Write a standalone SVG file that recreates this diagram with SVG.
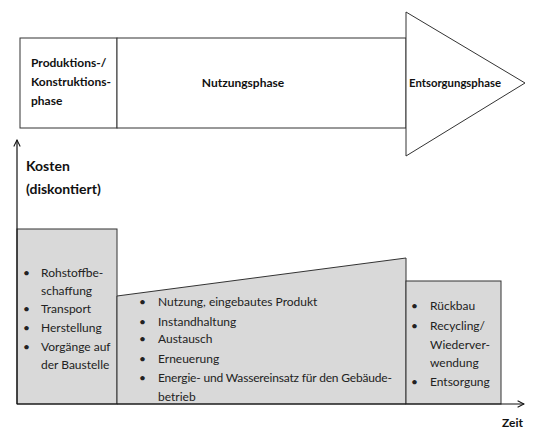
<svg xmlns="http://www.w3.org/2000/svg" width="534" height="430" viewBox="0 0 534 430">
<defs>
<style>
.t{font-family:Lato,"Liberation Sans",sans-serif;font-size:12px;fill:#222}
.b{font-family:Lato,"Liberation Sans",sans-serif;font-size:12px;font-weight:bold;fill:#111}
.k{font-family:Lato,"Liberation Sans",sans-serif;font-size:14px;font-weight:bold;fill:#111}
.box{fill:#d9d9d9;stroke:#333;stroke-width:1}
.ph{fill:#fff;stroke:#333;stroke-width:1}
.ax{fill:none;stroke:#111;stroke-width:1.2}
</style>
<marker id="ah" viewBox="0 0 10 10" refX="9" refY="5" markerWidth="8" markerHeight="8" orient="auto" markerUnits="userSpaceOnUse">
<path d="M1,1 L9,5 L1,9" fill="none" stroke="#111" stroke-width="1.3"/>
</marker>
</defs>
<rect width="534" height="430" fill="#fff"/>
<g id="phase-produktion">
<rect class="ph" x="20" y="38" width="97" height="90"/>
<text class="b" x="31" y="67">Produktions-/</text>
<text class="b" x="31" y="86">Konstruktions-</text>
<text class="b" x="31" y="105">phase</text>
</g>
<g id="phase-nutzung">
<rect class="ph" x="117" y="38" width="289" height="90"/>
<text class="b" x="243" y="87" text-anchor="middle">Nutzungsphase</text>
</g>
<g id="phase-entsorgung">
<polygon class="ph" points="406,12 525,83 406,156"/>
<text class="b" x="409" y="87" textLength="92" lengthAdjust="spacingAndGlyphs">Entsorgungsphase</text>
</g>
<g id="kosten-produktion">
<rect class="box" x="17" y="229" width="100" height="175"/>
<text class="t" x="23" y="277">•</text><text class="t" x="41" y="277">Rohstoffbe-</text>
<text class="t" x="41" y="295">schaffung</text>
<text class="t" x="23" y="313">•</text><text class="t" x="41" y="313">Transport</text>
<text class="t" x="23" y="332">•</text><text class="t" x="41" y="332">Herstellung</text>
<text class="t" x="23" y="351">•</text><text class="t" x="41" y="351">Vorgänge auf</text>
<text class="t" x="41" y="369">der Baustelle</text>
</g>
<g id="kosten-nutzung">
<polygon class="box" points="117,296 406,258 406,404 117,404"/>
<text class="t" x="139" y="306">•</text><text class="t" x="158" y="306">Nutzung, eingebautes Produkt</text>
<text class="t" x="139" y="326">•</text><text class="t" x="158" y="326">Instandhaltung</text>
<text class="t" x="139" y="343">•</text><text class="t" x="158" y="343">Austausch</text>
<text class="t" x="139" y="363">•</text><text class="t" x="158" y="363">Erneuerung</text>
<text class="t" x="139" y="382">•</text><text class="t" x="158" y="382" textLength="234" lengthAdjust="spacing">Energie- und Wassereinsatz für den Gebäude-</text>
<text class="t" x="158" y="401">betrieb</text>
</g>
<g id="kosten-entsorgung">
<rect class="box" x="406" y="281" width="95" height="123"/>
<text class="t" x="411" y="310">•</text><text class="t" x="430" y="310">Rückbau</text>
<text class="t" x="411" y="330">•</text><text class="t" x="430" y="330">Recycling/</text>
<text class="t" x="430" y="349">Wiederver-</text>
<text class="t" x="430" y="367">wendung</text>
<text class="t" x="411" y="386">•</text><text class="t" x="430" y="386">Entsorgung</text>
</g>
<g id="connectors">
<line class="ax" x1="17" y1="404" x2="17" y2="140" marker-end="url(#ah)"/>
<line class="ax" x1="17" y1="404" x2="524" y2="404" marker-end="url(#ah)"/>
</g>
<g id="labels">
<text class="k" x="26" y="171">Kosten</text>
<text class="k" x="26" y="194">(diskontiert)</text>
<text class="b" x="523" y="427" text-anchor="end">Zeit</text>
</g>
</svg>
